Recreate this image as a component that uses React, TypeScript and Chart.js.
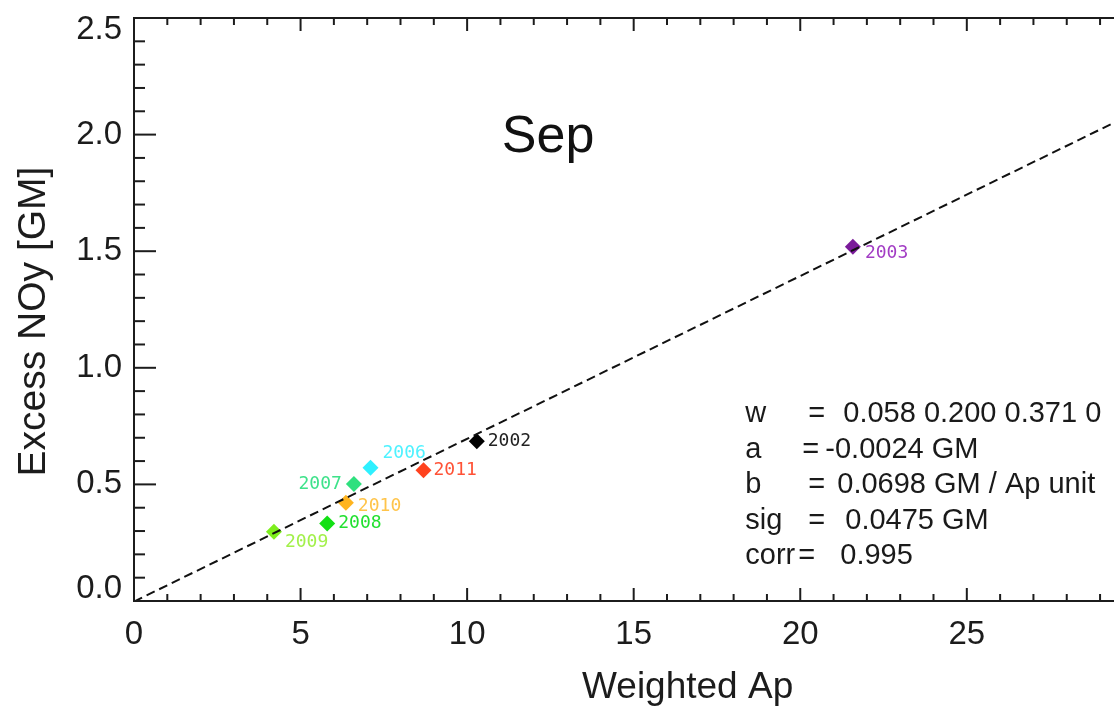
import React, { useEffect, useRef } from 'react';
import { Chart, registerables } from 'chart.js';

Chart.register(...registerables);

// ---- data ----
const years = ['2002', '2003', '2006', '2007', '2008', '2009', '2010', '2011'];
const weightedAp = [10.29, 21.58, 7.1, 6.6, 5.8, 4.2, 6.36, 8.69];
const excessNOy = [0.685, 1.519, 0.571, 0.502, 0.332, 0.297, 0.421, 0.561];
const fitX = [0, 32];
const fitY = [-0.0024, 2.2312];
const xTickLabels = ['0', '5', '10', '15', '20', '25'];
const yTickLabels = ['0.0', '0.5', '1.0', '1.5', '2.0', '2.5'];
const monthTitle = 'Sep';
const statNames = ['w', 'a', 'b', 'sig', 'corr'];
const statEquals = ['=', '=', '=', '=', '='];
const statValues = ['0.058 0.200 0.371 0', '-0.0024 GM', '0.0698 GM / Ap unit', '0.0475 GM', '0.995'];
const xTitle = 'Weighted Ap';
const yTitle = 'Excess NOy [GM]';

// ---- styles ----
const yearStyle: Record<string, { color: string; label: string; dx: number; dy: number; align: CanvasTextAlign }> = {
  '2002': { color: '#000000', label: '#222222', dx: 11, dy: 0, align: 'left' },
  '2003': { color: '#7a1a9a', label: '#a23cc4', dx: 12, dy: 7, align: 'left' },
  '2006': { color: '#2ef0ff', label: '#4ef2ff', dx: 12, dy: -15, align: 'left' },
  '2007': { color: '#2ee07e', label: '#3ee28a', dx: -12, dy: 0, align: 'right' },
  '2008': { color: '#12e014', label: '#22e030', dx: 11, dy: 0, align: 'left' },
  '2009': { color: '#7eee1e', label: '#a2f04a', dx: 11, dy: 11, align: 'left' },
  '2010': { color: '#ffb41e', label: '#ffc44a', dx: 12, dy: 4, align: 'left' },
  '2011': { color: '#ff421e', label: '#ff5236', dx: 10, dy: 0, align: 'left' },
};

const SANS = '"Liberation Sans", Arial, Helvetica, sans-serif';
const AXIS = '#1c1c1c';

const decorPlugin = {
  id: 'decor',
  afterDatasetsDraw(chart: any) {
    const { ctx, chartArea: a, scales } = chart;
    const xs = scales.x;
    const ys = scales.y;
    ctx.save();
    ctx.strokeStyle = AXIS;
    ctx.lineWidth = 2;
    ctx.setLineDash([]);
    ctx.strokeRect(a.left, a.top, a.right - a.left, a.bottom - a.top);
    const seg = (x1: number, y1: number, x2: number, y2: number) => {
      ctx.beginPath();
      ctx.moveTo(x1, y1);
      ctx.lineTo(x2, y2);
      ctx.stroke();
    };
    // y ticks (major 0.5, minor 0.1)
    for (let i = 0; i <= 25; i++) {
      const py = ys.getPixelForValue(i / 10);
      const len = i % 5 === 0 ? 22 : 11;
      seg(a.left, py, a.left + len, py);
      seg(a.right, py, a.right - len, py);
    }
    // x ticks (major 5, minor 1)
    for (let i = 0; i <= 32; i++) {
      const px = xs.getPixelForValue(i);
      const len = i % 5 === 0 ? 13 : 7;
      seg(px, a.bottom, px, a.bottom - len);
      seg(px, a.top, px, a.top + len);
    }
    // tick labels
    ctx.fillStyle = '#1c1c1c';
    ctx.font = `33px ${SANS}`;
    ctx.textBaseline = 'middle';
    ctx.textAlign = 'right';
    for (const lab of yTickLabels) {
      let py = ys.getPixelForValue(Number(lab));
      py = Math.min(Math.max(py, a.top + 12), a.bottom - 12);
      ctx.fillText(lab, a.left - 12, py);
    }
    ctx.textAlign = 'center';
    for (const lab of xTickLabels) {
      const px = xs.getPixelForValue(Number(lab));
      ctx.fillText(lab, px, a.bottom + 34);
    }
    // axis titles
    ctx.font = `37px ${SANS}`;
    ctx.textAlign = 'left';
    ctx.textBaseline = 'alphabetic';
    ctx.fillText(xTitle, xs.getPixelForValue(13.45), a.bottom + 97);
    ctx.save();
    ctx.font = `39px ${SANS}`;
    ctx.translate(45, ys.getPixelForValue(0.534));
    ctx.rotate(-Math.PI / 2);
    ctx.fillText(yTitle, 0, 0);
    ctx.restore();
    // month title
    ctx.textBaseline = 'middle';
    ctx.textAlign = 'center';
    ctx.font = `52px ${SANS}`;
    ctx.fillStyle = '#111';
    ctx.fillText(monthTitle, xs.getPixelForValue(12.43), ys.getPixelForValue(1.985));
    // statistics box
    ctx.font = `29px ${SANS}`;
    ctx.textAlign = 'left';
    ctx.fillStyle = '#1a1a1a';
    const x0 = xs.getPixelForValue(18.35);
    const y0 = ys.getPixelForValue(0.8);
    const eqOff = [63, 57, 63, 63, 53];
    const valOff = [98, 80, 92, 100, 95];
    statNames.forEach((n, i) => {
      const py = y0 + i * 35.5;
      ctx.fillText(n, x0, py);
      ctx.fillText(statEquals[i], x0 + eqOff[i], py);
      ctx.fillText(statValues[i], x0 + valOff[i], py);
    });
    // year labels
    const meta = chart.getDatasetMeta(1);
    ctx.font = '18px "DejaVu Sans Mono", monospace';
    meta.data.forEach((pt: any, i: number) => {
      const st = yearStyle[years[i]];
      ctx.fillStyle = st.label;
      ctx.textAlign = st.align;
      ctx.fillText(years[i], pt.x + st.dx, pt.y + st.dy);
    });
    ctx.restore();
  },
};

export default function App() {
  const ref = useRef<HTMLCanvasElement | null>(null);
  useEffect(() => {
    if (!ref.current) return;
    const chart = new Chart(ref.current, {
      type: 'scatter',
      data: {
        datasets: [
          {
            type: 'line',
            data: fitX.map((x, i) => ({ x, y: fitY[i] })),
            borderColor: '#111',
            borderWidth: 2,
            borderDash: [9, 5],
            pointRadius: 0,
            fill: false,
          } as any,
          {
            data: weightedAp.map((x, i) => ({ x, y: excessNOy[i] })),
            pointStyle: 'rectRot',
            pointRadius: 8,
            pointBorderWidth: 0,
            pointBackgroundColor: years.map((y) => yearStyle[y].color),
            pointBorderColor: years.map((y) => yearStyle[y].color),
          },
        ],
      },
      options: {
        responsive: false,
        animation: false,
        layout: { autoPadding: false, padding: { top: 18, left: 0, right: 0, bottom: 0 } },
        plugins: { legend: { display: false }, tooltip: { enabled: false } },
        scales: {
          x: {
            type: 'linear',
            min: 0,
            max: 32,
            grid: { display: false, drawTicks: false },
            border: { display: false },
            ticks: { display: false },
            afterFit: (s: any) => {
              s.height = 106;
            },
          },
          y: {
            type: 'linear',
            min: 0,
            max: 2.5,
            grid: { display: false, drawTicks: false },
            border: { display: false },
            ticks: { display: false },
            afterFit: (s: any) => {
              s.width = 134;
            },
          },
        },
      },
      plugins: [decorPlugin],
    });
    return () => chart.destroy();
  }, []);
  return (
    <div style={{ position: 'fixed', left: 0, top: 0, width: 1114, height: 707, overflow: 'hidden', background: '#fff' }}>
      <canvas ref={ref} width={1200} height={707} style={{ display: 'block' }} />
    </div>
  );
}
